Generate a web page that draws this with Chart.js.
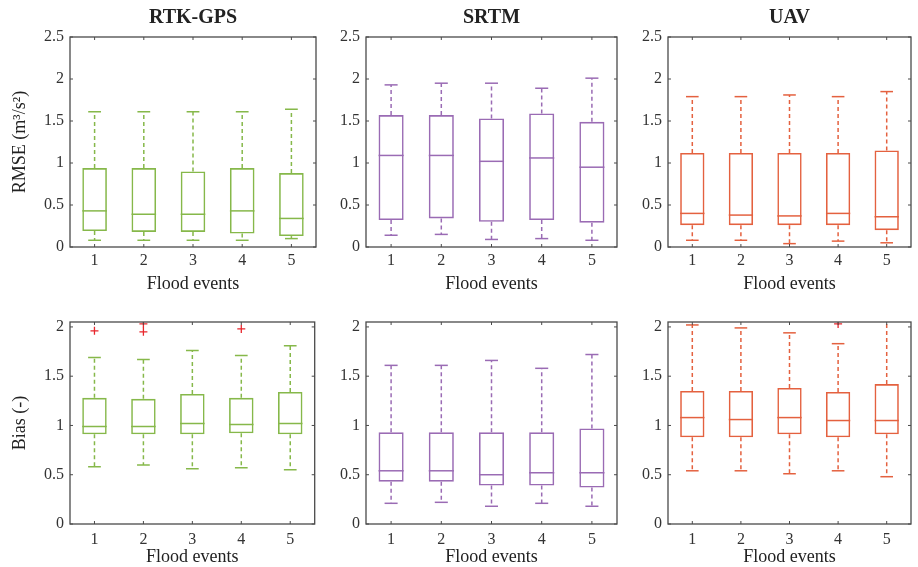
<!DOCTYPE html>
<html>
<head>
<meta charset="utf-8">
<script src="https://cdn.jsdelivr.net/npm/chart.js@4.4.1/dist/chart.umd.min.js"></script>
<style>
    html, body { margin: 0; padding: 0; background: #fff; }
    #wrap { position: relative; width: 918px; height: 567px; overflow: hidden; }
    #wrap canvas { position: absolute; }
</style>
</head>
<body>
<div id="wrap">
    <canvas id="rtkRmseChart"></canvas>
    <canvas id="srtmRmseChart"></canvas>
    <canvas id="uavRmseChart"></canvas>
    <canvas id="rtkBiasChart"></canvas>
    <canvas id="srtmBiasChart"></canvas>
    <canvas id="uavBiasChart"></canvas>
</div>
<script>
// flood events on the x axis
const events = ['1', '2', '3', '4', '5'];
const rmseTicks = [0, 0.5, 1, 1.5, 2, 2.5];
const rmseTickLabels = ['0', '0.5', '1', '1.5', '2', '2.5'];
const biasTicks = [0, 0.5, 1, 1.5, 2];
const biasTickLabels = ['0', '0.5', '1', '1.5', '2'];

// each row: [lower whisker, q1, median, q3, upper whisker]
const rtkRmse = [
    [0.08, 0.19, 0.43, 0.94, 1.61],
    [0.08, 0.18, 0.39, 0.94, 1.61],
    [0.08, 0.18, 0.39, 0.90, 1.61],
    [0.08, 0.16, 0.43, 0.94, 1.61],
    [0.10, 0.13, 0.34, 0.88, 1.64]
];
const srtmRmse = [
    [0.14, 0.32, 1.09, 1.57, 1.93],
    [0.15, 0.34, 1.09, 1.57, 1.95],
    [0.09, 0.30, 1.02, 1.53, 1.95],
    [0.10, 0.32, 1.06, 1.59, 1.89],
    [0.08, 0.29, 0.95, 1.49, 2.01]
];
const uavRmse = [
    [0.08, 0.26, 0.40, 1.12, 1.79],
    [0.08, 0.26, 0.38, 1.12, 1.79],
    [0.04, 0.26, 0.37, 1.12, 1.81],
    [0.07, 0.26, 0.40, 1.12, 1.79],
    [0.05, 0.20, 0.36, 1.15, 1.85]
];
const rtkBias = [
    [0.58, 0.91, 0.99, 1.28, 1.69],
    [0.60, 0.91, 0.99, 1.27, 1.67],
    [0.56, 0.91, 1.02, 1.32, 1.76],
    [0.57, 0.92, 1.01, 1.28, 1.71],
    [0.55, 0.91, 1.02, 1.34, 1.81]
];
const srtmBias = [
    [0.21, 0.43, 0.54, 0.93, 1.61],
    [0.22, 0.43, 0.54, 0.93, 1.61],
    [0.18, 0.39, 0.50, 0.93, 1.66],
    [0.21, 0.39, 0.52, 0.93, 1.58],
    [0.18, 0.37, 0.52, 0.97, 1.72]
];
const uavBias = [
    [0.54, 0.88, 1.08, 1.35, 2.02],
    [0.54, 0.88, 1.06, 1.35, 1.99],
    [0.51, 0.91, 1.08, 1.38, 1.94],
    [0.54, 0.88, 1.05, 1.34, 1.83],
    [0.48, 0.91, 1.05, 1.42, 2.15]
];
const rtkBiasOutliers = [
    { x: '1', y: 1.96 },
    { x: '2', y: 2.03 },
    { x: '2', y: 1.95 },
    { x: '4', y: 1.98 }
];
const uavBiasOutliers = [
    { x: '4', y: 2.03 }
];

const GREEN = '#86b84a';
const PURPLE = '#9a6bb4';
const ORANGE = '#e4613f';
const FONT = "'Liberation Serif', 'DejaVu Serif', serif";

// whiskers, caps and medians drawn through the chart scales
const boxPlotPlugin = {
    id: 'boxPlot',
    afterDatasetsDraw(chart, args, opts) {
        const { ctx, chartArea: a, scales: { x, y } } = chart;
        const step = x.getPixelForValue(1) - x.getPixelForValue(0);
        const boxHalf = step * 0.25;
        const capHalf = step * 0.13;
        const line = (x1, y1, x2, y2) => {
            ctx.beginPath();
            ctx.moveTo(x1, y1);
            ctx.lineTo(x2, y2);
            ctx.stroke();
        };
        ctx.save();
        ctx.beginPath();
        ctx.rect(a.left, a.top, a.right - a.left, a.bottom - a.top);
        ctx.clip();
        ctx.strokeStyle = opts.color;
        ctx.lineWidth = 1.5;
        opts.stats.forEach((s, i) => {
            const cx = x.getPixelForValue(i);
            const [lo, q1, med, q3, hi] = s.map(v => y.getPixelForValue(v));
            ctx.setLineDash([4, 3]);
            line(cx, q3, cx, hi);
            line(cx, q1, cx, lo);
            ctx.setLineDash([]);
            line(cx - capHalf, hi, cx + capHalf, hi);
            line(cx - capHalf, lo, cx + capHalf, lo);
            line(cx - boxHalf, med, cx + boxHalf, med);
        });
        ctx.restore();
    },
    afterDraw(chart) {
        // matlab style frame with inward ticks on all sides
        const { ctx, chartArea: a, scales: { x, y } } = chart;
        ctx.save();
        ctx.strokeStyle = '#4a4a4a';
        ctx.lineWidth = 1.3;
        ctx.strokeRect(a.left, a.top, a.right - a.left, a.bottom - a.top);
        ctx.lineWidth = 1;
        y.ticks.forEach(t => {
            const py = y.getPixelForValue(t.value);
            ctx.beginPath();
            ctx.moveTo(a.left, py); ctx.lineTo(a.left + 3, py);
            ctx.moveTo(a.right, py); ctx.lineTo(a.right - 3, py);
            ctx.stroke();
        });
        events.forEach((e, i) => {
            const px = x.getPixelForValue(i);
            ctx.beginPath();
            ctx.moveTo(px, a.bottom); ctx.lineTo(px, a.bottom - 3);
            ctx.moveTo(px, a.top); ctx.lineTo(px, a.top + 3);
            ctx.stroke();
        });
        ctx.restore();
    }
};

const cols = [
    { left: 0, width: 320, areaLeft: 70, areaRight: 316 },
    { left: 320, width: 300, areaLeft: 366, areaRight: 617 },
    { left: 620, width: 298, areaLeft: 668, areaRight: 911 }
];
const rows = [
    { top: 0, height: 296, areaTop: 37, areaBottom: 247, tickPad: 4, titlePad: 3 },
    { top: 296, height: 271, areaTop: 322, areaBottom: 524, tickPad: 6, titlePad: 1 }
];

function buildPanel(id, col, row, stats, color, cfg) {
    const c = cols[col];
    const r = rows[row];
    const el = document.getElementById(id);
    el.width = c.width;
    el.height = r.height;
    el.style.left = c.left + 'px';
    el.style.top = r.top + 'px';

    const datasets = [{
        data: stats.map(s => [s[1], s[3]]),
        backgroundColor: 'rgba(0,0,0,0)',
        borderColor: color,
        borderWidth: 1.6,
        borderSkipped: false,
        barPercentage: 0.5,
        categoryPercentage: 1
    }];
    if (cfg.outliers) {
        datasets.push({
            type: 'scatter',
            data: cfg.outliers,
            pointStyle: 'cross',
            pointRadius: 4,
            borderColor: '#e8262c',
            borderWidth: 1.3,
            backgroundColor: '#e8262c'
        });
    }

    const scales = {
        x: {
            type: 'category',
            offset: true,
            grid: { display: false, drawTicks: false },
            border: { display: false },
            ticks: {
                autoSkip: false,
                maxRotation: 0,
                padding: r.tickPad,
                color: '#333',
                font: { family: FONT, size: 16 }
            },
            title: {
                display: true,
                text: 'Flood events',
                color: '#222',
                font: { family: FONT, size: 18, lineHeight: 1 },
                padding: { top: 0, bottom: r.titlePad }
            },
            afterFit: s => { s.height = r.top + r.height - r.areaBottom; }
        },
        y: {
            min: 0,
            max: cfg.yMax,
            grid: { display: false, drawTicks: false },
            border: { display: false },
            afterBuildTicks: s => { s.ticks = cfg.ticks.map(v => ({ value: v })); },
            ticks: {
                padding: 6,
                color: '#333',
                font: { family: FONT, size: 16 },
                callback: (v) => cfg.tickLabels[cfg.ticks.indexOf(v)] ?? ''
            },
            title: {
                display: !!cfg.yTitle,
                text: cfg.yTitle || '',
                color: '#222',
                font: { family: FONT, size: 18, lineHeight: 1 },
                padding: { top: 11, bottom: 0 }
            },
            afterFit: s => { s.width = c.areaLeft - c.left; }
        }
    };
    if (cfg.title) {
        // empty top axis that only carries the panel title, centred over the plot box
        scales.xTop = {
            type: 'category',
            position: 'top',
            offset: true,
            grid: { display: false, drawTicks: false },
            border: { display: false },
            ticks: { display: false },
            title: {
                display: true,
                text: cfg.title,
                color: '#222',
                font: { family: FONT, size: 20, weight: 'bold', lineHeight: 1 },
                padding: { top: 8, bottom: 0 }
            },
            afterFit: s => { s.height = r.areaTop - r.top; }
        };
    }

    return new Chart(el.getContext('2d'), {
        type: 'bar',
        data: { labels: events, datasets },
        options: {
            responsive: false,
            animation: false,
            devicePixelRatio: 1,
            layout: {
                padding: {
                    left: 0,
                    right: c.left + c.width - c.areaRight,
                    top: row === 0 ? 0 : r.areaTop - r.top,
                    bottom: 0
                }
            },
            plugins: {
                legend: { display: false },
                tooltip: { enabled: false },
                title: { display: false },
                boxPlot: { stats, color }
            },
            scales
        },
        plugins: [boxPlotPlugin]
    });
}

const rmseCfg = { yMax: 2.5, ticks: rmseTicks, tickLabels: rmseTickLabels };
const biasCfg = { yMax: 2.05, ticks: biasTicks, tickLabels: biasTickLabels };

buildPanel('rtkRmseChart', 0, 0, rtkRmse, GREEN, { ...rmseCfg, title: 'RTK-GPS', yTitle: 'RMSE (m³/s²)' });
buildPanel('srtmRmseChart', 1, 0, srtmRmse, PURPLE, { ...rmseCfg, title: 'SRTM' });
buildPanel('uavRmseChart', 2, 0, uavRmse, ORANGE, { ...rmseCfg, title: 'UAV' });
buildPanel('rtkBiasChart', 0, 1, rtkBias, GREEN, { ...biasCfg, yTitle: 'Bias (-)', outliers: rtkBiasOutliers });
buildPanel('srtmBiasChart', 1, 1, srtmBias, PURPLE, { ...biasCfg });
buildPanel('uavBiasChart', 2, 1, uavBias, ORANGE, { ...biasCfg, outliers: uavBiasOutliers });
</script>
</body>
</html>
